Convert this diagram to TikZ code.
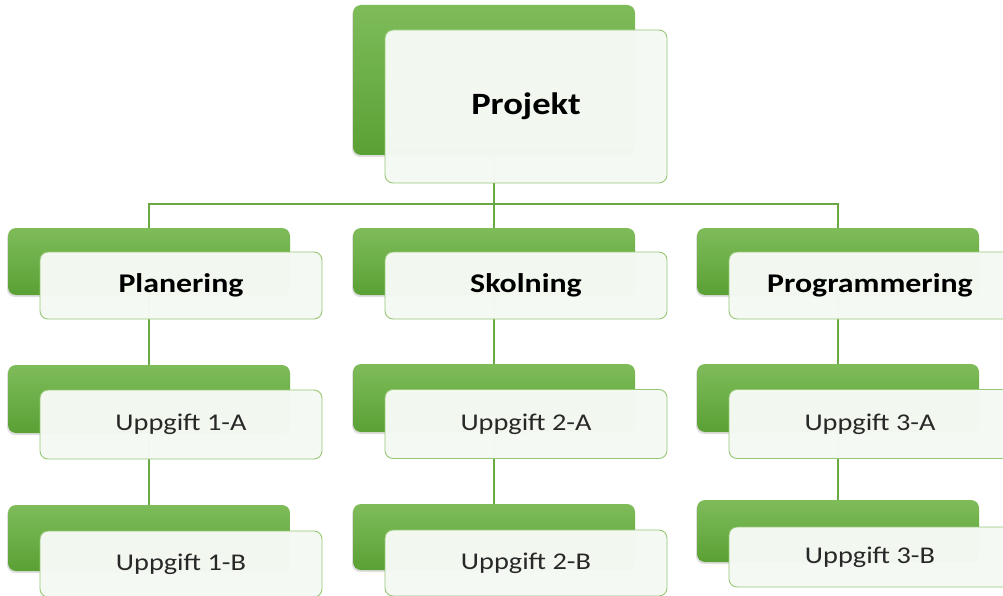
\documentclass[tikz,border=0pt]{standalone}
\usepackage{fontspec}
\setmainfont{Carlito}
\newfontfamily\widefont[FakeStretch=1.18]{Carlito}
\usetikzlibrary{shadows}
\definecolor{gtop}{RGB}{126,188,90}
\definecolor{gbot}{RGB}{90,160,52}
\definecolor{wfill}{RGB}{245,249,243}
\definecolor{wline}{RGB}{150,200,118}
\definecolor{conncol}{RGB}{106,168,70}
\definecolor{txtgray}{RGB}{40,40,40}
\tikzset{
  greenbox/.style={rectangle, rounded corners=8pt, top color=gtop, bottom color=gbot, draw=none,
    minimum width=282pt, inner sep=0pt,
    drop shadow={shadow xshift=-1pt, shadow yshift=-2pt, opacity=0.25}},
  whitebox/.style={rectangle, rounded corners=8pt, fill=wfill, fill opacity=0.98, text opacity=1,
    draw=wline, line width=0.9pt, minimum width=282pt, inner sep=0pt},
  toptext/.style={font=\widefont\fontsize{31}{34}\selectfont\bfseries, text=black},
  boldtext/.style={font=\widefont\fontsize{27}{30}\selectfont\bfseries, text=black},
  normtext/.style={font=\widefont\fontsize{24}{28}\selectfont, text=txtgray},
  conn/.style={draw=conncol, line width=1.6pt}
}
\begin{document}
\begin{tikzpicture}[x=1pt,y=-1pt]
\useasboundingbox (0,0) rectangle (1003,596);
\clip (0,0) rectangle (1003,596);
\fill[white] (0,0) rectangle (1003,596);
% green boxes
\node[greenbox, minimum height=150pt] (gP) at (494,80) {};
\node[greenbox, minimum height=67pt] (g1) at (149,261.5) {};
\node[greenbox, minimum height=67pt] (g2) at (494,261.5) {};
\node[greenbox, minimum height=67pt] (g3) at (838,261.5) {};
\node[greenbox, minimum height=68pt] (g1a) at (149,399) {};
\node[greenbox, minimum height=68pt] (g2a) at (494,398) {};
\node[greenbox, minimum height=68pt] (g3a) at (838,398) {};
\node[greenbox, minimum height=66pt] (g1b) at (149,538) {};
\node[greenbox, minimum height=66pt] (g2b) at (494,537) {};
\node[greenbox, minimum height=62pt] (g3b) at (838,531) {};
% connectors
\coordinate (bus) at (494,204);
\draw[conn] (gP.south) -- (g2.north);
\draw[conn] (gP.south |- bus) -| (g1.north);
\draw[conn] (gP.south |- bus) -| (g3.north);
\draw[conn] (g1.south) -- (g1a.north);
\draw[conn] (g2.south) -- (g2a.north);
\draw[conn] (g3.south) -- (g3a.north);
\draw[conn] (g1a.south) -- (g1b.north);
\draw[conn] (g2a.south) -- (g2b.north);
\draw[conn] (g3a.south) -- (g3b.north);
% white boxes with text
\node[whitebox, minimum height=153pt, toptext] (wP) at (526,106.5) {Projekt};
\node[whitebox, minimum height=67pt, boldtext] (w1) at (181,285.5) {Planering};
\node[whitebox, minimum height=67pt, boldtext] (w2) at (526,285.5) {Skolning};
\node[whitebox, minimum height=67pt, boldtext] (w3) at (870,285.5) {Programmering};
\node[whitebox, minimum height=69pt, normtext] (w1a) at (181,424.5) {Uppgift 1-A};
\node[whitebox, minimum height=69pt, normtext] (w2a) at (526,424) {Uppgift 2-A};
\node[whitebox, minimum height=69pt, normtext] (w3a) at (870,424) {Uppgift 3-A};
\node[whitebox, minimum height=66pt, normtext] (w1b) at (181,564) {Uppgift 1-B};
\node[whitebox, minimum height=66pt, normtext] (w2b) at (526,563) {Uppgift 2-B};
\node[whitebox, minimum height=60pt, normtext] (w3b) at (870,557) {Uppgift 3-B};
\end{tikzpicture}
\end{document}
